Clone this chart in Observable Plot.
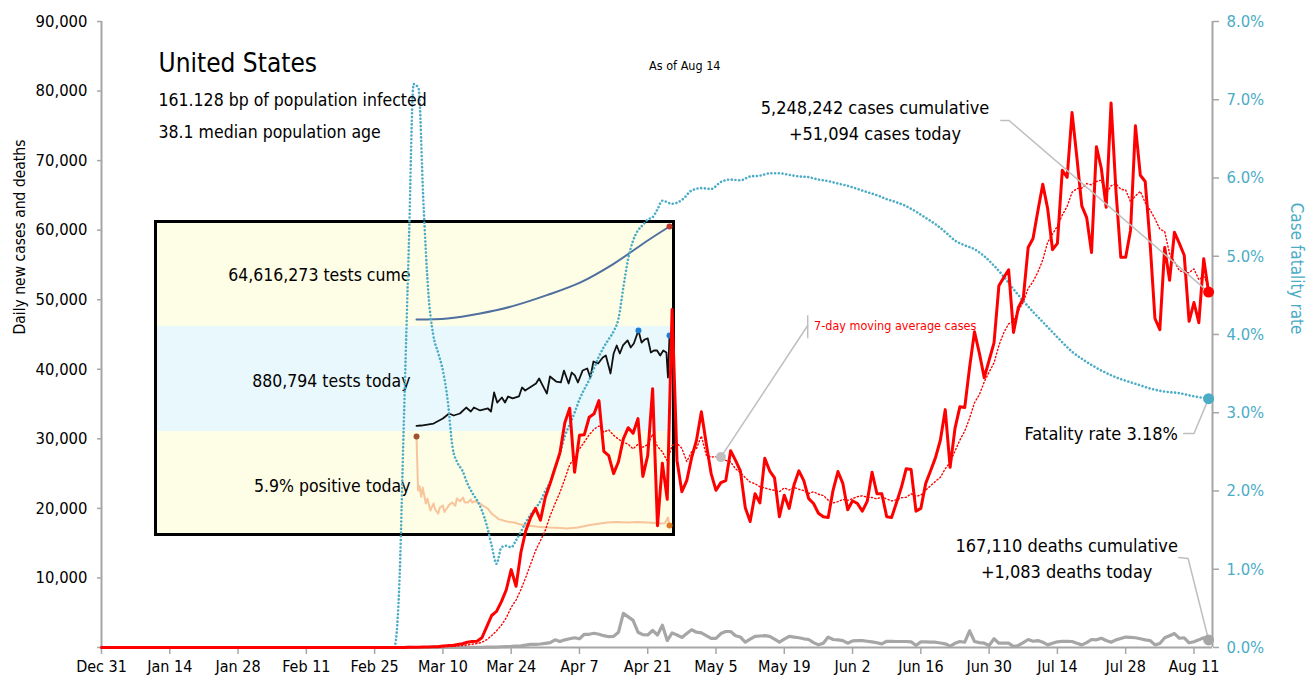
<!DOCTYPE html>
<html><head><meta charset="utf-8">
<script src="https://cdn.jsdelivr.net/npm/d3@7"></script>
<script src="https://cdn.jsdelivr.net/npm/@observablehq/plot@0.6"></script>
<style>
body{margin:0;background:#fff;}
#wrap{position:relative;width:1315px;height:685px;overflow:hidden;}
#inset{position:absolute;left:154px;top:220px;width:515px;height:310px;border:3px solid #000;}
#inset svg{display:block;}
#main{position:absolute;left:0;top:0;}
svg text{font-stretch:condensed;}
</style></head>
<body><div id="wrap"><div id="inset"></div><div id="main"></div></div>
<script>
// ---------- DATA ----------
// daily new cases, Dec 31 2019 .. Aug 14 2020
const cases = [
0,0,0,0,0,0,0,0,0,0,0,0,0,0,0,0,0,0,0,0,0,1,0,0,1,0,1,0,0,0,0,0,
0,0,0,0,0,0,0,0,0,0,0,0,0,0,0,0,0,0,0,0,0,1,0,0,0,0,0,1,0,
3,0,27,20,40,60,70,90,120,200,270,290,420,540,
760,850,900,1400,3000,4600,5200,6600,8300,11200,8800,13700,16800,18700,20000,18300,21600,
23600,25800,28000,32300,34400,25200,30500,30600,33100,33600,35500,28200,27600,25000,26700,30000,31600,30800,32900,24600,
27600,37200,17500,26500,21300,48600,26900,22400,24000,27300,
29800,33900,29300,25000,22600,23700,24000,28300,26900,25400,20100,18100,22100,20800,27200,25400,24400,18800,21900,20000,
23400,25400,24000,21400,20700,19300,18800,18700,22600,25300,23600,
19800,21100,20700,19600,21000,25200,22100,22100,18800,18700,20800,23000,25700,25600,19600,20000,23600,25400,27300,29800,
34200,25900,31500,34600,34500,40300,45400,42300,38800,41300,
43800,52000,53200,54300,45300,48900,50200,57500,58800,62800,66600,63100,57200,58100,68600,67600,76900,70400,63500,61800,
56800,72000,68900,63300,78300,65700,56100,56100,60000,75000,67900,
67000,58200,47300,45700,57500,52800,59700,58100,56400,46900,49600,46700,55900,51094
];
// daily new deaths, Dec 31 2019 .. Aug 14 2020
const deaths = [
0,0,0,0,0,0,0,0,0,0,0,0,0,0,0,0,0,0,0,0,0,0,0,0,0,0,0,0,0,0,0,0,
0,0,0,0,0,0,0,0,0,0,0,0,0,0,0,0,0,0,0,0,0,0,0,0,0,0,0,0,0,
1,0,4,3,1,2,3,4,4,6,8,7,10,10,10,18,23,30,40,50,55,110,130,150,200,250,350,450,450,500,600,
700,1100,850,1100,1250,1400,1250,1900,1900,2050,1900,1700,1550,1600,2200,4900,4400,3900,2200,1850,
1800,2450,1800,3200,1000,2100,1800,1450,2000,2550,
2200,2100,1700,1300,1300,2000,2300,2300,1700,1500,760,1200,1600,1650,1700,1600,1200,760,1200,1600,
1500,1400,1250,1150,700,380,620,1500,1150,1100,1000,
620,960,1000,1000,900,800,680,530,900,880,860,860,860,820,290,820,800,780,760,650,
530,190,600,860,760,2400,860,700,620,290,
1250,620,620,620,140,290,700,1150,900,1000,760,380,600,820,900,880,860,600,380,700,
1150,1100,1330,1000,760,1100,1300,1500,1450,1400,1250,
1100,1000,380,580,1400,1700,2000,1330,1400,680,820,1100,1400,1083
];
// case fatality rate (%), read points
const fatalityDates = ["2019-12-31","2020-02-29","2020-03-01","2020-03-02","2020-03-03","2020-03-04","2020-03-05","2020-03-06","2020-03-07","2020-03-08","2020-03-09","2020-03-10","2020-03-11","2020-03-12","2020-03-13","2020-03-14","2020-03-15","2020-03-16","2020-03-17","2020-03-18","2020-03-19","2020-03-20","2020-03-21","2020-03-22","2020-03-23","2020-03-24","2020-03-25","2020-03-26","2020-03-27","2020-03-28","2020-03-29","2020-03-30","2020-03-31","2020-04-01","2020-04-02","2020-04-03","2020-04-04","2020-04-05","2020-04-06","2020-04-07","2020-04-08","2020-04-09","2020-04-10","2020-04-11","2020-04-12","2020-04-13","2020-04-14","2020-04-15","2020-04-16","2020-04-17","2020-04-18","2020-04-19","2020-04-20","2020-04-21","2020-04-22","2020-04-23","2020-04-24","2020-04-26","2020-04-28","2020-04-30","2020-05-02","2020-05-04","2020-05-06","2020-05-08","2020-05-10","2020-05-12","2020-05-14","2020-05-16","2020-05-18","2020-05-20","2020-05-22","2020-05-24","2020-05-26","2020-05-28","2020-05-30","2020-06-01","2020-06-03","2020-06-05","2020-06-07","2020-06-09","2020-06-11","2020-06-13","2020-06-15","2020-06-17","2020-06-19","2020-06-21","2020-06-23","2020-06-25","2020-06-27","2020-06-29","2020-07-01","2020-07-03","2020-07-05","2020-07-07","2020-07-09","2020-07-11","2020-07-13","2020-07-15","2020-07-17","2020-07-19","2020-07-21","2020-07-23","2020-07-25","2020-07-27","2020-07-29","2020-07-31","2020-08-02","2020-08-05","2020-08-08","2020-08-11","2020-08-14"];
const fatalityPct = [0,0,0.7,2.9,5.1,7.2,7.15,5.7,4.55,4.0,3.77,3.54,3.15,2.55,2.36,2.26,2.1,1.98,1.88,1.75,1.56,1.3,1.07,1.28,1.3,1.28,1.37,1.48,1.6,1.7,1.78,1.87,2.0,2.12,2.3,2.48,2.7,2.85,3.0,3.17,3.3,3.42,3.57,3.72,3.84,3.94,4.04,4.2,4.6,4.97,5.2,5.33,5.4,5.47,5.5,5.6,5.71,5.67,5.72,5.84,5.87,5.86,5.95,5.98,5.97,6.02,6.03,6.06,6.06,6.04,6.02,6.01,5.98,5.96,5.93,5.9,5.86,5.82,5.78,5.73,5.69,5.64,5.57,5.49,5.41,5.31,5.2,5.14,5.09,5.0,4.88,4.74,4.58,4.43,4.29,4.16,4.03,3.9,3.78,3.69,3.61,3.54,3.48,3.43,3.39,3.35,3.31,3.27,3.25,3.21,3.18];

const xTickDates = ["2019-12-31","2020-01-14","2020-01-28","2020-02-11","2020-02-25","2020-03-10","2020-03-24","2020-04-07","2020-04-21","2020-05-05","2020-05-19","2020-06-02","2020-06-16","2020-06-30","2020-07-14","2020-07-28","2020-08-11"];
const leftTicks = [0,10000,20000,30000,40000,50000,60000,70000,80000,90000];
const rightTicksPct = [0,1,2,3,4,5,6,7,8];

// inset: days since Mar 4
const cumeDay = [0,20,41,62,84,106,127,149,163];
const cumeTests = [20000,700000,4200000,9300000,16900000,26000000,38700000,54900000,64616273];
const todayDay = [0,3,11,17,21,24,28,32,35,37,41,46,48,50,52,55,57,59,62,66,68,70,73,77,79,81,84,86,90,93,95,98,100,102,104,107,110,112,114,117,120,122,125,127,129,131,133,136,138,140,143,145,147,149,151,153,155,157,159,161,162,163];
const todayTests = [15000,19000,38000,86000,134000,115000,134000,191000,153000,191000,163000,182000,153000,335000,239000,287000,239000,297000,278000,297000,383000,354000,383000,421000,469000,411000,325000,488000,440000,431000,545000,421000,526000,498000,431000,545000,565000,478000,632000,612000,670000,689000,517000,708000,785000,708000,785000,833000,766000,804000,928000,813000,842000,852000,718000,737000,737000,689000,737000,718000,478000,880794];
const posDay = [0,1,2,3,4,6,7,9,11,12,14,15,17,18,20,21,23,25,26,28,30,31,33,35,36,38,41,43,46,48,50,53,56,60,63,67,72,78,84,90,97,104,110,116,123,129,136,142,149,153,156,160,162,163];
const posPct = [55.9,25.6,28,22,27.2,18.3,21,14.3,18.3,15,12.6,16,17.1,13.5,16,17.5,18.8,17,21.1,19.5,21.6,19,18.8,20.5,18.8,19.5,18.3,17,15.4,13,11.5,9.5,8.7,7.8,7.6,6.5,5.9,5.2,4.8,4.6,4.2,4.8,5.9,6.8,7.6,7.8,7.6,7.9,7.6,7.3,7.0,7.2,10.4,5.9];

const insetLabels = ["64,616,273 tests cume","880,794 tests today","5.9% positive today"];

// ---------- HELPERS ----------
const FONT = "'DejaVu Sans Condensed','DejaVu Sans',sans-serif";
const RED = "#ff0000", TEAL = "#4bacc6", GRAY = "#a6a6a6", CALLOUT = "#bfbfbf";
const start = new Date(Date.UTC(2019, 11, 31));
const dayAt = n => new Date(start.getTime() + n * 864e5);
const PCT = 90000 / 8;
const fmt = d3.format(",");

const table = cases.map((c, i) => ({date: dayAt(i), cases: c, deaths: deaths[i]}));
const fat = fatalityDates.map((s, i) => ({date: new Date(s), y: fatalityPct[i] * PCT}));
const last = table[table.length - 1];
const lastFat = fat[fat.length - 1];
const iMA = 127; // May 6
const maVal = d3.mean(cases.slice(iMA - 6, iMA + 1));

function label(txt, n, v, opts = {}) {
  return Plot.text([txt], {x: () => dayAt(n), y: () => v, text: d => d, lineAnchor: "middle", fill: "#000", fontSize: 18, ...opts});
}
function callout(pts) {
  return Plot.line(pts, {x: d => d[0], y: d => d[1], stroke: CALLOUT, strokeWidth: 1.5});
}

// ---------- MAIN CHART ----------
const main = Plot.plot({
  width: 1315, height: 685,
  marginLeft: 101, marginRight: 103, marginTop: 21, marginBottom: 38,
  style: {background: "transparent", fontFamily: FONT, fontSize: "16px", color: "#000", overflow: "visible"},
  x: {type: "utc", domain: [start, dayAt(227.8)]},
  y: {domain: [0, 90000]},
  marks: [
    Plot.axisX({ticks: xTickDates.map(s => new Date(s)), tickFormat: d3.utcFormat("%b %-d"), tickSize: 7, tickPadding: 6, stroke: GRAY, strokeWidth: 1.5, fill: "#000", fontSize: 16, label: null}),
    Plot.axisY({anchor: "left", ticks: leftTicks, tickFormat: d => d ? fmt(d) : "", tickSize: 4, tickPadding: 10, stroke: GRAY, strokeWidth: 1.5, fill: "#000", fontSize: 16.5, label: null}),
    Plot.axisY({anchor: "right", ticks: rightTicksPct.map(p => p * PCT), tickFormat: d => (d / PCT).toFixed(1) + "%", tickSize: 6, tickPadding: 8, stroke: GRAY, strokeWidth: 1.5, fill: TEAL, fontSize: 16.5, label: null}),
    Plot.ruleY([0], {stroke: GRAY, strokeWidth: 2}),
    Plot.ruleX([start, dayAt(227.8)], {stroke: GRAY, strokeWidth: 2}),
    Plot.text(["Daily new cases and deaths"], {frameAnchor: "left", dx: -81, rotate: -90, text: d => d, fontSize: 15.5, fill: "#000"}),
    Plot.text(["Case fatality rate"], {frameAnchor: "right", dx: 84, rotate: 90, text: d => d, fontSize: 17, fill: TEAL}),

    Plot.line(table, {x: "date", y: "deaths", stroke: GRAY, strokeWidth: 3.2, strokeLinejoin: "round"}),
    Plot.line(fat, {x: "date", y: "y", stroke: TEAL, strokeWidth: 2.6, strokeDasharray: "0.01 3.7", strokeLinecap: "round", curve: "monotone-x"}),
    Plot.line(table, Plot.windowY({k: 7, anchor: "end"}, {x: "date", y: "cases", stroke: RED, strokeWidth: 1.4, strokeDasharray: "1.2 2.4"})),
    Plot.line(table, {x: "date", y: "cases", stroke: RED, strokeWidth: 3, strokeLinejoin: "round"}),

    // callouts
    callout([[dayAt(184.4), 75760], [dayAt(186.1), 75760], [last.date, last.cases]]),
    callout([[dayAt(221.9), 30765], [dayAt(224), 30765], [lastFat.date, lastFat.y]]),
    callout([[dayAt(220.9), 12940], [dayAt(222.8), 12795], [last.date, last.deaths]]),
    callout([[dayAt(iMA), maVal], [dayAt(144.8), 46290]]),
    Plot.ruleX([dayAt(144.8)], {y1: 44400, y2: 47700, stroke: CALLOUT, strokeWidth: 1.5}),

    Plot.dot([last], {x: "date", y: "cases", r: 5.5, fill: RED}),
    Plot.dot([lastFat], {x: "date", y: "y", r: 5.5, fill: TEAL}),
    Plot.dot([last], {x: "date", y: "deaths", r: 5.5, fill: GRAY}),
    Plot.dot([{d: dayAt(iMA), v: maVal}], {x: "d", y: "v", r: 5, fill: CALLOUT}),

    // texts
    label("United States", 11.7, 83960, {textAnchor: "start", fontSize: 26}),
    label("161.128 bp of population infected", 11.7, 78640, {textAnchor: "start", fontSize: 17.5}),
    label("38.1 median population age", 11.7, 74040, {textAnchor: "start", fontSize: 17.5}),
    label("As of Aug 14", 119.6, 83670, {fontSize: 12.5}),
    label("5,248,242 cases cumulative", 158.6, 77490),
    label("+" + fmt(last.cases) + " cases today", 158.6, 73750),
    label("Fatality rate " + lastFat.y / PCT + "%", 220.7, 30620, {textAnchor: "end"}),
    label("167,110 deaths cumulative", 197.9, 14520),
    label("+" + fmt(last.deaths) + " deaths today", 197.9, 10780),
    label("7-day moving average cases", 146.1, 46290, {textAnchor: "start", fontSize: 12.5, fill: RED})
  ]
});
document.getElementById("main").appendChild(main);

// ---------- INSET ----------
function band(h, bg, y, marks) {
  return Plot.plot({
    width: 515, height: h, margin: 0,
    style: {background: bg, overflow: "visible", fontFamily: FONT, color: "#000"},
    x: {domain: [0, 163], range: [259, 512], axis: null},
    y: {...y, axis: null},
    marks
  });
}
function bandLabel(txt, dy) {
  return Plot.text([txt], {x: () => 0, text: d => d, textAnchor: "end", dx: -6, dy, fontSize: 17.5, fill: "#000"});
}
const cumeData = cumeDay.map((d, i) => ({d, v: cumeTests[i]}));
const todayData = todayDay.map((d, i) => ({d, v: todayTests[i]}));
const posData = posDay.map((d, i) => ({d, v: posPct[i]}));
const maxToday = todayData.reduce((a, b) => b.v > a.v ? b : a);

const inset = document.getElementById("inset");
inset.appendChild(band(103, "#fefde6", {domain: [0, 66e6], range: [96, 1]}, [
  bandLabel(insetLabels[0], 0),
  Plot.line(cumeData, {x: "d", y: "v", stroke: "#4f6f9f", strokeWidth: 2, curve: "catmull-rom"}),
  Plot.dot([cumeData[cumeData.length - 1]], {x: "d", y: "v", r: 3, fill: "#c0392b"})
]));
inset.appendChild(band(105, "#e9f8fd", {domain: [0, 957000], range: [101, 1]}, [
  bandLabel(insetLabels[1], 2.5),
  Plot.line(todayData, {x: "d", y: "v", stroke: "#111", strokeWidth: 1.8}),
  Plot.dot([maxToday, todayData[todayData.length - 1]], {x: "d", y: "v", r: 3, fill: "#1e7fd8"})
]));
inset.appendChild(band(102, "#fefde6", {domain: [0, 58], range: [104.5, 1.3]}, [
  bandLabel(insetLabels[2], 4),
  Plot.line(posData, {x: "d", y: "v", stroke: "#f8c49c", strokeWidth: 2}),
  Plot.dot([posData[0]], {x: "d", y: "v", r: 3, fill: "#a0522d"}),
  Plot.dot([posData[posData.length - 1]], {x: "d", y: "v", r: 3, fill: "#e07a1f"})
]));
</script></body></html>
